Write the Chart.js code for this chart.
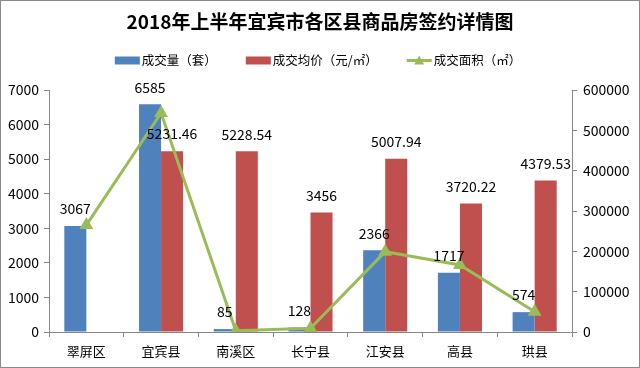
<!DOCTYPE html>
<html>
<head>
<meta charset="utf-8">
<script src="https://cdn.jsdelivr.net/npm/chart.js@4/dist/chart.umd.min.js"></script>
<style>
html, body { margin: 0; padding: 0; background: #fff; }
#wrap { width: 638px; height: 366px; border: 1px solid #8a8a8a; }
</style>
</head>
<body>
<div id="wrap"><canvas id="chart" width="638" height="366"></canvas></div>
<script>
const titleText = "2018年上半年宜宾市各区县商品房签约详情图";
const districts = ["翠屏区", "宜宾县", "南溪区", "长宁县", "江安县", "高县", "珙县"];
const volume = [3067, 6585, 85, 128, 2366, 1717, 574];
const avgPrice = [null, 5231.46, 5228.54, 3456, 5007.94, 3720.22, 4379.53];
const area = [265000, 543000, 3200, 9200, 199000, 166000, 50000];
const leftTicks = [0, 1000, 2000, 3000, 4000, 5000, 6000, 7000];
const rightTicks = [0, 100000, 200000, 300000, 400000, 500000, 600000];

const BLUE = "#4F81BD";
const RED = "#C0504D";
const GREEN = "#9BBB59";
const AXIS = "#868686";
const FONT = '"Noto Sans CJK SC", "Noto Sans", sans-serif';

// title + legend drawn by hand (legend mixes boxes and a line with a triangle)
const header = {
    id: "header",
    afterDraw(chart) {
        const ctx = chart.ctx;
        ctx.save();
        ctx.fillStyle = "#000";
        ctx.textBaseline = "middle";
        ctx.textAlign = "center";
        ctx.font = "bold 19px " + FONT;
        ctx.fillText(titleText, 319, 21);

        ctx.font = "12.5px " + FONT;
        ctx.textAlign = "left";
        const items = chart.data.datasets.map(ds => ({
            text: ds.label, color: ds.borderColor || ds.backgroundColor, line: ds.type === "line"
        }));
        const boxW = 25, gap = 29;
        let total = 0;
        items.forEach((it, i) => {
            it.w = boxW + 2 + ctx.measureText(it.text).width;
            total += it.w + (i ? gap : 0);
        });
        let x = 317 - total / 2;
        const y = 59.5;
        items.forEach(it => {
            if (it.line) {
                ctx.strokeStyle = it.color;
                ctx.lineWidth = 3;
                ctx.beginPath();
                ctx.moveTo(x, y);
                ctx.lineTo(x + boxW, y);
                ctx.stroke();
                ctx.fillStyle = it.color;
                ctx.beginPath();
                ctx.moveTo(x + boxW / 2, y - 5);
                ctx.lineTo(x + boxW / 2 + 5, y + 4);
                ctx.lineTo(x + boxW / 2 - 5, y + 4);
                ctx.closePath();
                ctx.fill();
            } else {
                ctx.fillStyle = it.color;
                ctx.fillRect(x, y - 4, boxW, 8);
            }
            ctx.fillStyle = "#000";
            ctx.fillText(it.text, x + boxW + 2, y);
            x += it.w + gap;
        });
        ctx.restore();
    }
};

// value labels above the bars
const barLabels = {
    id: "barLabels",
    afterDatasetsDraw(chart) {
        const ctx = chart.ctx;
        ctx.save();
        ctx.font = "14px " + FONT;
        ctx.fillStyle = "#000";
        ctx.textAlign = "center";
        ctx.textBaseline = "middle";
        [0, 1].forEach(i => {
            const meta = chart.getDatasetMeta(i);
            const values = chart.data.datasets[i].data;
            meta.data.forEach((bar, j) => {
                if (values[j] == null) return;
                ctx.fillText(String(values[j]), bar.x, bar.y - 17);
            });
        });
        ctx.restore();
    }
};

new Chart(document.getElementById("chart"), {
    type: "bar",
    data: {
        labels: districts,
        datasets: [
            { label: "成交量（套）", data: volume, backgroundColor: BLUE, yAxisID: "y", order: 1 },
            { label: "成交均价（元/㎡）", data: avgPrice, backgroundColor: RED, yAxisID: "y", order: 1 },
            {
                type: "line", label: "成交面积（㎡）", data: area, yAxisID: "y1", order: 0,
                borderColor: GREEN, backgroundColor: GREEN, borderWidth: 3, tension: 0,
                pointStyle: "triangle", pointRadius: 5, pointBackgroundColor: GREEN, pointBorderColor: GREEN
            }
        ]
    },
    options: {
        responsive: false,
        animation: false,
        layout: { padding: { top: 89, left: 0, right: 0, bottom: 0 } },
        datasets: { bar: { categoryPercentage: 0.59, barPercentage: 1.0 } },
        plugins: { legend: { display: false }, title: { display: false }, tooltip: { enabled: false } },
        scales: {
            x: {
                offset: true,
                grid: { offset: true, drawOnChartArea: false, tickLength: 5, color: AXIS },
                border: { color: AXIS },
                ticks: { color: "#000", font: { family: FONT, size: 13 }, padding: 6 },
                afterFit: s => { s.height = 35; }
            },
            y: {
                position: "left",
                min: 0, max: 7000,
                afterBuildTicks: s => { s.ticks = leftTicks.map(v => ({ value: v })); },
                grid: { drawOnChartArea: false, tickLength: 5, color: AXIS },
                border: { color: AXIS },
                ticks: { color: "#000", font: { family: FONT, size: 14 }, padding: 5, callback: v => String(v) },
                afterFit: s => { s.width = 48; }
            },
            y1: {
                position: "right",
                min: 0, max: 600000,
                afterBuildTicks: s => { s.ticks = rightTicks.map(v => ({ value: v })); },
                grid: { drawOnChartArea: false, tickLength: 5, color: AXIS },
                border: { color: AXIS },
                ticks: { color: "#000", font: { family: FONT, size: 14 }, padding: 6, callback: v => String(v) },
                afterFit: s => { s.width = 67; }
            }
        }
    },
    plugins: [header, barLabels]
});
</script>
</body>
</html>
